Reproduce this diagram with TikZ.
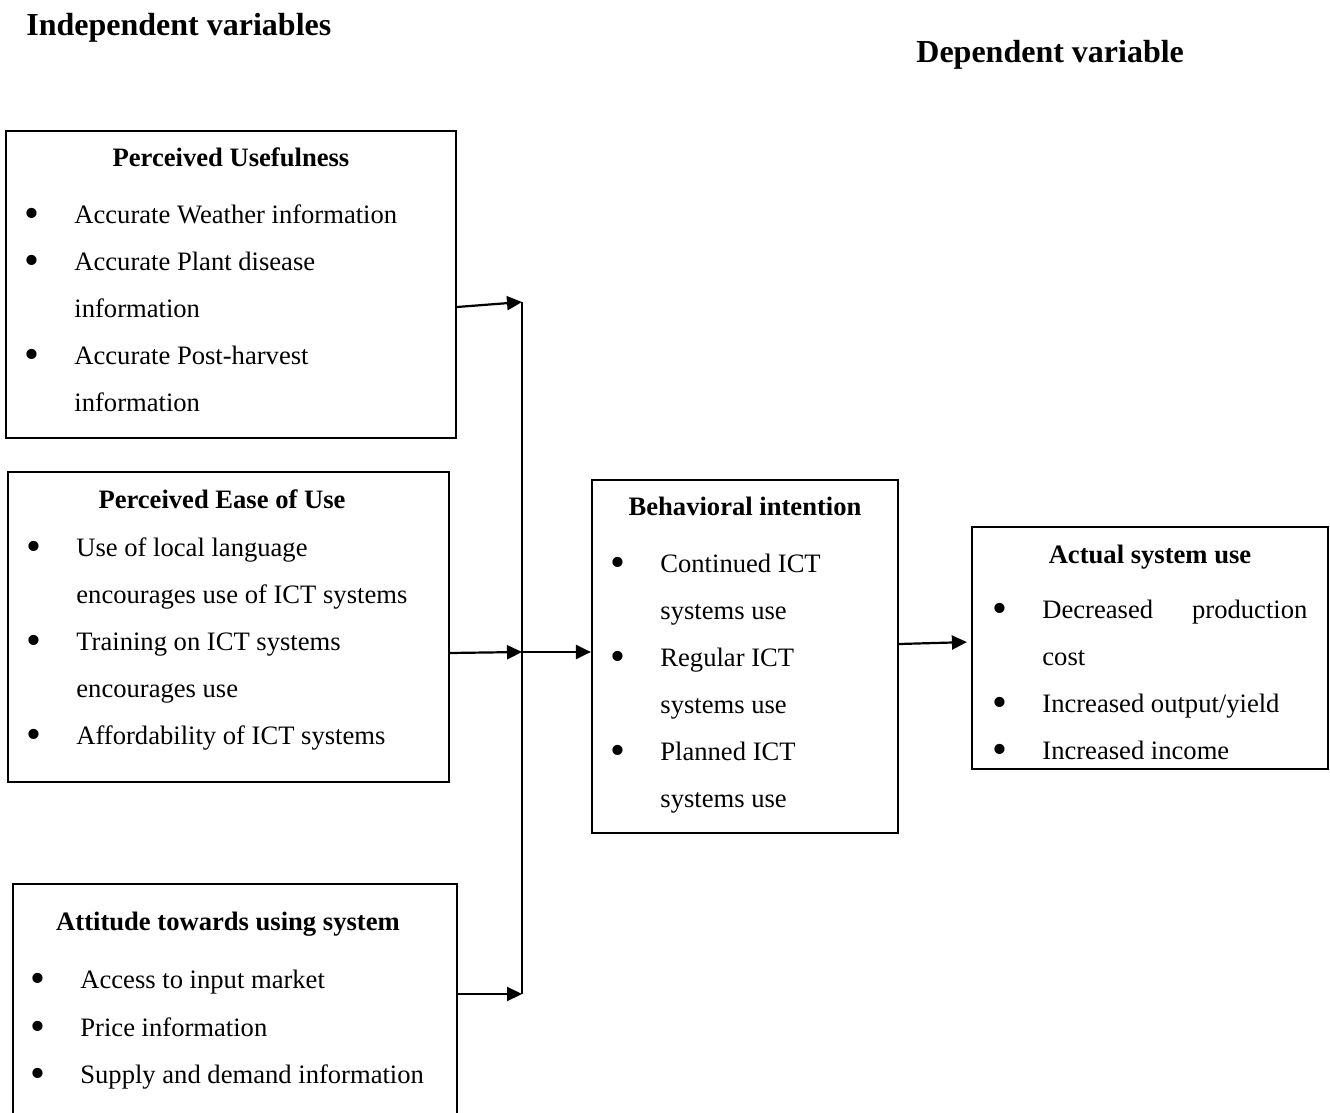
\documentclass[tikz,border=0pt]{standalone}
\usepackage{fontspec}
\setmainfont{Liberation Serif}
\usetikzlibrary{arrows.meta,positioning}

\newcommand{\bul}[1]{\strut\makebox[23.5pt][l]{\hspace*{-1.5pt}\raisebox{-2pt}{\scalebox{1.6}{\textbullet}}}#1}
\newcommand{\cont}[1]{\strut\hspace*{23.5pt}#1}

\begin{document}
\begin{tikzpicture}[x=0.5pt,y=-0.5pt,%
    box/.style={draw,line width=1.1pt,inner sep=0pt},
    heading/.style={font=\bfseries\fontsize{16}{19}\selectfont,anchor=base west,inner sep=0pt},
    title/.style={font=\bfseries\fontsize{13.3}{15}\selectfont,anchor=base,inner sep=0pt},
    items/.style={align=left,anchor=north west,inner sep=0pt,font=\fontsize{13.3}{23.5}\selectfont},
    link/.style={-{Triangle[length=7.5pt,width=7pt]},line width=1.1pt}]

    \useasboundingbox (0,0) rectangle (1330,1113);
    \clip (0,0) rectangle (1330,1113);

    % headings
    \node[heading] (indep) at (26,36) {Independent variables};
    \node[heading] (dep) at (916,63) {Dependent variable};

    % independent variables
    \node[box,minimum width=225pt,minimum height=153.5pt] (pu) at (231,284.5) {};
    \node[title] (pu-title) at (231,167) {Perceived Usefulness};
    \node[items] (pu-items) at (27,190.2) {\bul{Accurate Weather information}\\
        \bul{Accurate Plant disease}\\ \cont{information}\\
        \bul{Accurate Post-harvest}\\ \cont{information}};

    \node[box,minimum width=220.5pt,minimum height=155pt] (peu) at (228.5,627) {};
    \node[title] (peu-title) at (222,508) {Perceived Ease of Use};
    \node[items] (peu-items) at (29,523.2) {\bul{Use of local language}\\
        \cont{encourages use of ICT systems}\\
        \bul{Training on ICT systems}\\ \cont{encourages use}\\
        \bul{Affordability of ICT systems}};

    \node[box,minimum width=222pt,minimum height=128pt] (att) at (235,1012) {};
    \node[title] (att-title) at (228,930) {Attitude towards using system};
    \node[items,font=\fontsize{13.3}{23.7}\selectfont] (att-items) at (33,955.2) {\bul{Access to input market}\\
        \bul{Price information}\\ \bul{Supply and demand information}};

    % dependent side
    \node[box,minimum width=153pt,minimum height=176.5pt] (bi) at (745,656.5) {};
    \node[title] (bi-title) at (745,515) {Behavioral intention};
    \node[items] (bi-items) at (613,539.2) {\bul{Continued ICT}\\ \cont{systems use}\\
        \bul{Regular ICT}\\ \cont{systems use}\\
        \bul{Planned ICT}\\ \cont{systems use}};

    \node[box,minimum width=178pt,minimum height=121pt] (asu) at (1150,648) {};
    \node[title] (asu-title) at (1150,563) {Actual system use};
    \node[items] (asu-items) at (995,585.2) {\bul{\makebox[132.5pt]{Decreased\hfill production}}\\
        \cont{cost}\\ \bul{Increased output/yield}\\ \bul{Increased income}};

    % connectors
    \coordinate (j1) at (522,302);
    \coordinate (j2) at (522,652);
    \coordinate (j3) at (522,994);
    \draw[line width=1.1pt] (j1) -- (j3);
    \draw[link] ([yshift=-11.25pt]pu.east) -- (j1);
    \draw[link] ([yshift=-13pt]peu.east) -- (j2);
    \draw[link] ([yshift=9pt]att.east) -- (j3);
    \draw[link] (j2) -- ([yshift=2.25pt]bi.west);
    \draw[link,shorten >=2pt] ([yshift=6.25pt]bi.east) -- ([yshift=3pt]asu.west);
\end{tikzpicture}
\end{document}
